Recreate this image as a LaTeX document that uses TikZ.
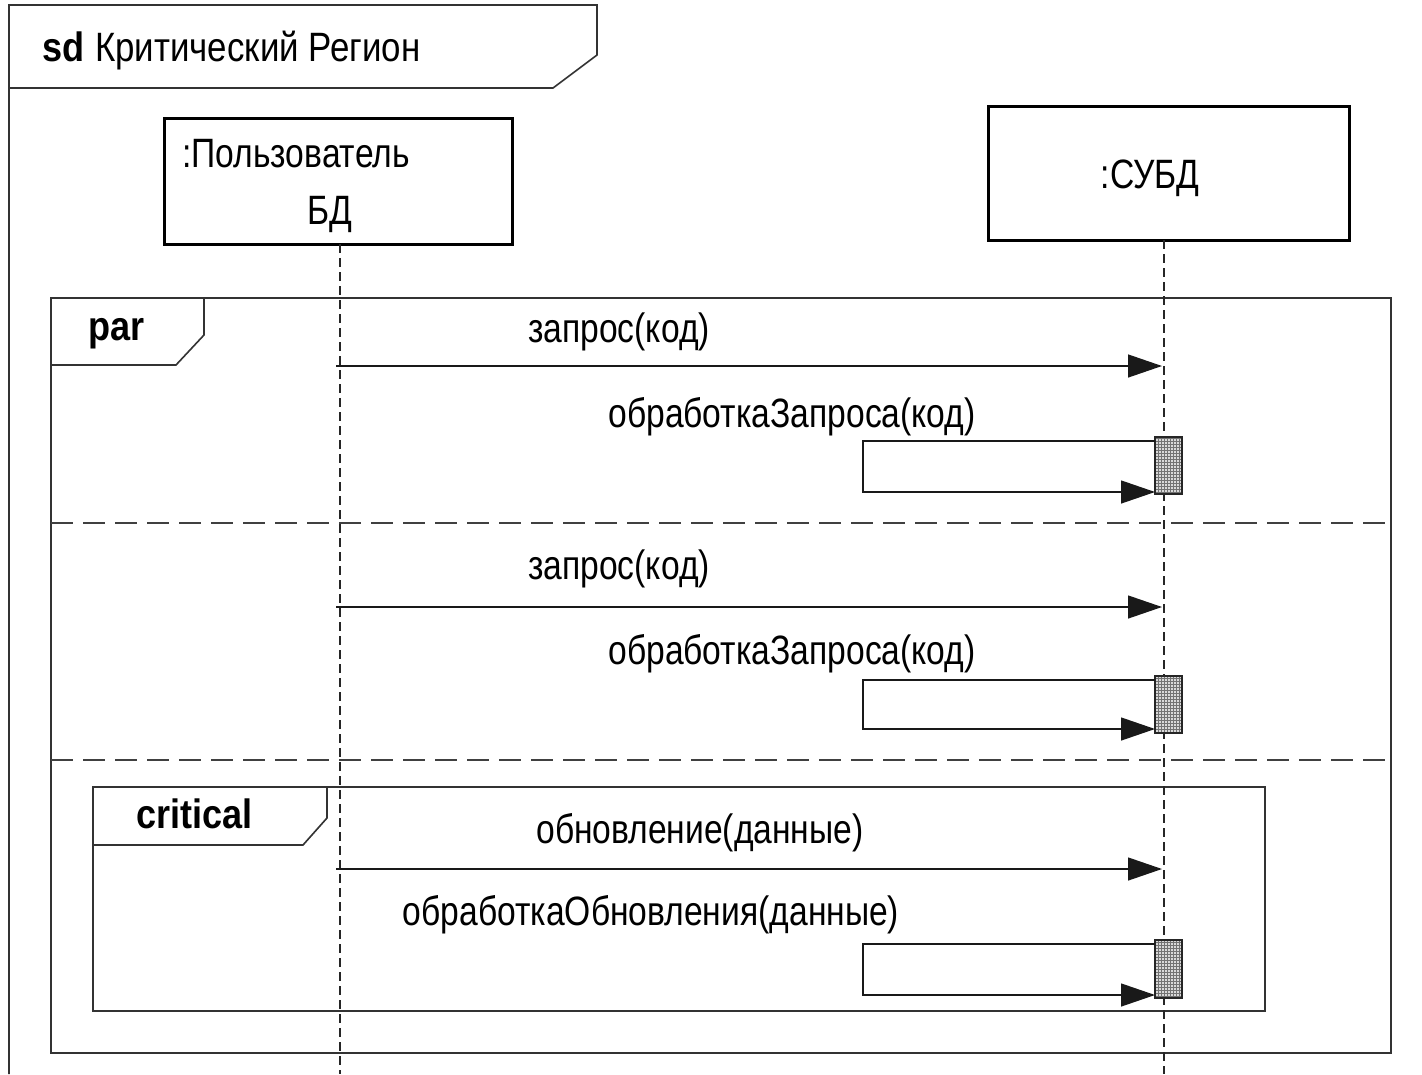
\documentclass[tikz,border=0pt]{standalone}
\usepackage{fontspec}
\setmainfont{Liberation Sans}
\newfontfamily\narrowfont{Liberation Sans}[FakeStretch=0.82]
\newfontfamily\titlefont{Liberation Sans}[FakeStretch=0.85]
\newfontfamily\boldnarrow{Liberation Sans}[FakeStretch=0.88]
\usetikzlibrary{arrows.meta,patterns}
\begin{document}
\begin{tikzpicture}[x=1pt,y=-1pt,
  frameline/.style={draw=black!80, line width=1.6pt},
  lifebox/.style={draw=black, line width=3pt, fill=white, inner sep=0pt},
  lifeline/.style={draw=black!85, line width=1.3pt, dash pattern=on 9pt off 5pt},
  sepline/.style={draw=black!75, line width=1.3pt, dash pattern=on 22pt off 10pt},
  msg/.style={draw=black!90, line width=1.3pt, -{Triangle[length=34pt,width=23pt]}},
  actbar/.style={draw=black!85, line width=1.3pt, preaction={fill=gray!30}, pattern=grid, pattern color=gray!90!black},
  txt/.style={font=\narrowfont\fontsize{41}{46}\selectfont, anchor=base, inner sep=0pt},
  ttxt/.style={font=\titlefont\fontsize{41}{46}\selectfont, anchor=base west, inner sep=0pt},
  btxt/.style={font=\boldnarrow\fontsize{41}{46}\selectfont\bfseries, anchor=base west, inner sep=0pt}
]
\useasboundingbox (0,0) rectangle (1422,1074);
\fill[white] (0,0) rectangle (1422,1074);

% outer sd frame
\draw[frameline] (9,1074) -- (9,5) -- (597,5) -- (597,55) -- (553,88) -- (9,88);
\node[btxt] (sd) at (42,61) {sd};
\node[ttxt] (sdname) at (95,61) {Критический Регион};

% lifeline heads
\node[lifebox, minimum width=348pt, minimum height=126pt] (u) at (338,181) {};
\node[txt] (uname1) at (296,167) {:Пользователь};
\node[txt] (uname2) at (330,224) {БД};
\node[lifebox, minimum width=361pt, minimum height=134pt] (db) at (1168.5,173) {};
\node[txt] (dbname) at (1150,188) {:СУБД};

\coordinate (utop) at (340,244);
\coordinate (ubot) at (340,1074);
\coordinate (dtop) at (1164,240);
\coordinate (dbot) at (1164,1074);

% par frame
\draw[frameline] (51,298) rectangle (1391,1053);
\draw[frameline] (51,365) -- (176,365) -- (204,335) -- (204,298);
\node[btxt] (par) at (88,340) {par};
\draw[sepline] (51,523) -- (1391,523);
\draw[sepline] (51,760) -- (1391,760);

% critical frame
\draw[frameline] (93,787) rectangle (1265,1011);
\draw[frameline] (93,845) -- (303,845) -- (327,818) -- (327,787);
\node[btxt] (crit) at (136,828) {critical};

% lifelines
\draw[lifeline] (utop) -- (ubot);
\draw[lifeline] (dtop) -- (dbot);

% section 1
\coordinate (m1s) at (336,366); \coordinate (m1e) at (1162,366);
\draw[msg] (m1s) -- (m1e);
\node[txt] (m1l) at (619,342) {запрос(код)};
\node[actbar, minimum width=27pt, minimum height=57pt, inner sep=0pt] (a1) at (1168.5,465.5) {};
\node[txt] (s1l) at (792,427) {обработкаЗапроса(код)};
\coordinate (s1a) at (1155,441); \coordinate (s1b) at (863,441);
\coordinate (s1c) at (863,492); \coordinate (s1d) at (1155,492);
\draw[msg] (s1a) -- (s1b) -- (s1c) -- (s1d);

% section 2
\coordinate (m2s) at (336,607); \coordinate (m2e) at (1162,607);
\draw[msg] (m2s) -- (m2e);
\node[txt] (m2l) at (619,579) {запрос(код)};
\node[actbar, minimum width=27pt, minimum height=57pt, inner sep=0pt] (a2) at (1168.5,704.5) {};
\node[txt] (s2l) at (792,664) {обработкаЗапроса(код)};
\coordinate (s2a) at (1155,680); \coordinate (s2b) at (863,680);
\coordinate (s2c) at (863,729); \coordinate (s2d) at (1155,729);
\draw[msg] (s2a) -- (s2b) -- (s2c) -- (s2d);

% section 3 (critical)
\coordinate (m3s) at (336,869); \coordinate (m3e) at (1162,869);
\draw[msg] (m3s) -- (m3e);
\node[txt] (m3l) at (700,843) {обновление(данные)};
\node[actbar, minimum width=27pt, minimum height=58pt, inner sep=0pt] (a3) at (1168.5,969) {};
\node[txt] (s3l) at (651,925) {обработкаОбновления(данные)};
\coordinate (s3a) at (1155,944); \coordinate (s3b) at (863,944);
\coordinate (s3c) at (863,995); \coordinate (s3d) at (1155,995);
\draw[msg] (s3a) -- (s3b) -- (s3c) -- (s3d);
\end{tikzpicture}
\end{document}
